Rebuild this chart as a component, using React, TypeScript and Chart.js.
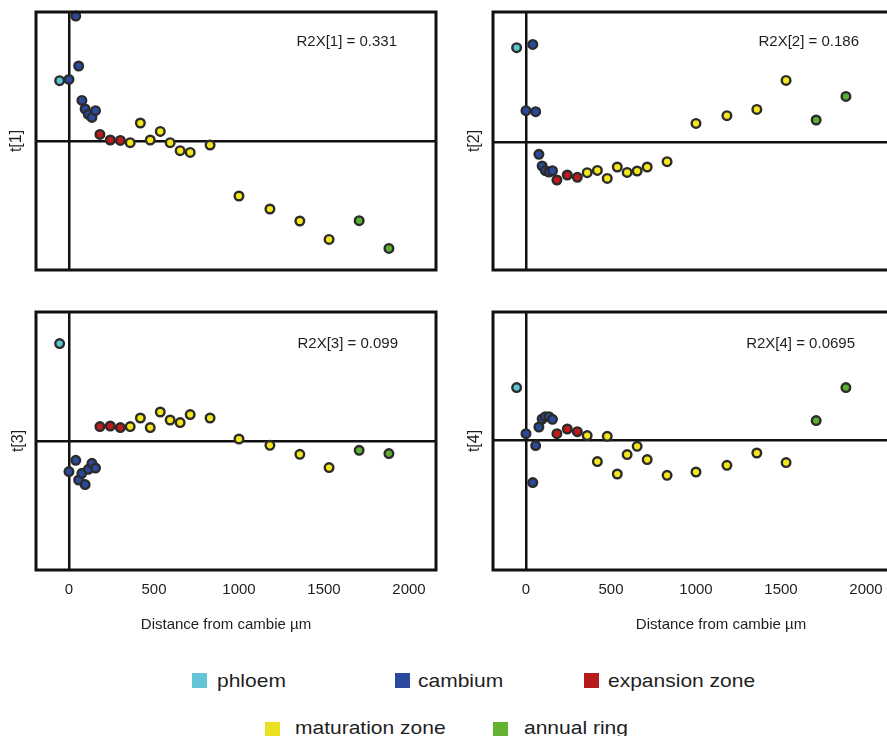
import React, { useEffect, useRef } from "react";
import { Chart, registerables } from "chart.js";

Chart.register(...registerables);

const FONT = '"Liberation Sans", Arial, Helvetica, sans-serif';
const TEXT = "#1e1e1e";

const ZONE_NAMES = ["phloem", "cambium", "expansion zone", "maturation zone", "annual ring"];
const POINT_COLORS = ["#5ec5d6", "#2a4a9e", "#c01a1c", "#f4e71c", "#5cae30"];
const LEGEND_COLORS = ["#63c5d5", "#2b4a9b", "#b51b1b", "#ebe123", "#62b22f"];

// distance from cambium (µm) per zone
const PHLOEM_X = [-55];
const CAMBIUM_X = [0, 40, 57, 76, 95, 114, 135, 156];
const EXPANSION_X = [182, 243, 302];
const MATURATION_X = [360, 420, 478, 537, 595, 654, 713, 830, 1000, 1182, 1358, 1530];
const ANNUAL_X = [1707, 1882];
const ZONE_X = [PHLOEM_X, CAMBIUM_X, EXPANSION_X, MATURATION_X, ANNUAL_X];

const X_TICKS = [0, 500, 1000, 1500, 2000];
const X_MIN = -194;
const X_MAX = 2159;
const X_TITLE = "Distance from cambie µm";

// scores t[1]
const T1_PHLOEM = [6.1];
const T1_CAMBIUM = [6.23, 12.57, 7.57, 4.13, 3.27, 2.73, 2.43, 3.1];
const T1_EXPANSION = [0.73, 0.17, 0.13];
const T1_MATURATION = [-0.1, 1.87, 0.17, 1.03, -0.1, -0.9, -1.07, -0.33, -5.43, -6.73, -7.93, -9.77];
const T1_ANNUAL = [-7.9, -10.67];

// scores t[2]
const T2_PHLOEM = [9.5];
const T2_CAMBIUM = [3.2, 9.83, 3.1, -1.16, -2.33, -2.8, -2.93, -2.8];
const T2_EXPANSION = [-3.73, -3.23, -3.46];
const T2_MATURATION = [-3.0, -2.77, -3.57, -2.43, -2.97, -2.83, -2.43, -1.9, 1.93, 2.7, 3.33, 6.23];
const T2_ANNUAL = [2.27, 4.63];

// scores t[3]
const T3_PHLOEM = [9.77];
const T3_CAMBIUM = [-3.03, -1.9, -3.87, -3.2, -4.33, -2.8, -2.2, -2.67];
const T3_EXPANSION = [1.47, 1.53, 1.37];
const T3_MATURATION = [1.47, 2.33, 1.37, 2.93, 2.13, 1.87, 2.67, 2.33, 0.23, -0.4, -1.3, -2.63];
const T3_ANNUAL = [-0.9, -1.23];

// scores t[4]
const T4_PHLOEM = [5.27];
const T4_CAMBIUM = [0.66, -4.23, -0.53, 1.33, 2.13, 2.36, 2.36, 2.1];
const T4_EXPANSION = [0.66, 1.13, 0.86];
const T4_MATURATION = [0.47, -2.13, 0.4, -3.37, -1.43, -0.6, -1.93, -3.5, -3.17, -2.5, -1.27, -2.23];
const T4_ANNUAL = [1.97, 5.27];

const Y_SERIES = [
  [T1_PHLOEM, T1_CAMBIUM, T1_EXPANSION, T1_MATURATION, T1_ANNUAL],
  [T2_PHLOEM, T2_CAMBIUM, T2_EXPANSION, T2_MATURATION, T2_ANNUAL],
  [T3_PHLOEM, T3_CAMBIUM, T3_EXPANSION, T3_MATURATION, T3_ANNUAL],
  [T4_PHLOEM, T4_CAMBIUM, T4_EXPANSION, T4_MATURATION, T4_ANNUAL],
];
const Y_TITLES = ["t[1]", "t[2]", "t[3]", "t[4]"];
const R2X_LABELS = ["R2X[1] = 0.331", "R2X[2] = 0.186", "R2X[3] = 0.099", "R2X[4] = 0.0695"];
const Y_MIN = [-12.83, -12.73, -12.87, -12.97];
const Y_MAX = [12.97, 13.07, 12.93, 12.83];

// panel geometry (layout only)
const GEOM = [
  { left: 0, top: 0, w: 443, h: 300, axisW: 36, yTitlePad: 7.1, r2xRight: 397, r2xY: 42, showX: false, xTitleX: 0 },
  { left: 443, top: 0, w: 460, h: 300, axisW: 50, yTitlePad: 22.4, r2xRight: 416, r2xY: 42, showX: false, xTitleX: 0 },
  { left: 0, top: 300, w: 443, h: 340, axisW: 36, yTitlePad: 9.4, r2xRight: 398, r2xY: 43.5, showX: true, xTitleX: 226 },
  { left: 443, top: 300, w: 460, h: 340, axisW: 50, yTitlePad: 22.4, r2xRight: 412, r2xY: 43.5, showX: true, xTitleX: 278 },
];
const PLOT_W = 400;
const PLOT_TOP = 12;
const PLOT_H = 258;

const LEGEND_POS = [
  { sx: 192, sy: 672.5, tx: 217, ty: 669 },
  { sx: 395, sy: 672.5, tx: 418, ty: 669 },
  { sx: 584, sy: 672.5, tx: 608, ty: 669 },
  { sx: 265, sy: 721.5, tx: 295, ty: 716.2 },
  { sx: 493, sy: 721.5, tx: 524, ty: 716.2 },
];

const panelDecor = {
  id: "panelDecor",
  afterDatasetsDraw(chart: any, _args: any, opts: any) {
    const { ctx, chartArea: a } = chart;
    ctx.save();
    ctx.lineWidth = 3;
    ctx.strokeStyle = "#111";
    ctx.strokeRect(a.left, a.top, a.right - a.left, a.bottom - a.top);
    ctx.fillStyle = TEXT;
    ctx.font = `15px ${FONT}`;
    ctx.textBaseline = "middle";
    ctx.textAlign = "right";
    ctx.fillText(opts.r2x, opts.r2xRight, opts.r2xY);
    if (opts.showXTitle) {
      ctx.textAlign = "center";
      ctx.fillText(opts.xTitle, opts.xTitleX, opts.xTitleY);
    }
    ctx.restore();
  },
};

const zeroGrid = (c: any) => (c.tick && c.tick.value === 0 ? "#111" : "rgba(0,0,0,0)");

function Panel({ index }: { index: number }) {
  const ref = useRef<HTMLCanvasElement | null>(null);
  const g = GEOM[index];
  useEffect(() => {
    if (!ref.current) return;
    const datasets = ZONE_NAMES.map((name, z) => ({
      label: name,
      data: ZONE_X[z].map((x, i) => ({ x, y: Y_SERIES[index][z][i] })),
      backgroundColor: POINT_COLORS[z],
      borderColor: "#2b2b2b",
      borderWidth: 2.4,
      pointRadius: 4.3,
      pointHoverRadius: 4.3,
      clip: false as any,
    }));
    const chart = new Chart(ref.current, {
      type: "scatter",
      data: { datasets },
      plugins: [panelDecor as any],
      options: {
        responsive: false,
        animation: false,
        devicePixelRatio: 1,
        events: [],
        layout: { padding: { left: 0, top: PLOT_TOP, right: g.w - g.axisW - PLOT_W, bottom: 0 } },
        plugins: {
          legend: { display: false },
          tooltip: { enabled: false },
          panelDecor: {
            r2x: R2X_LABELS[index],
            r2xRight: g.r2xRight,
            r2xY: g.r2xY,
            showXTitle: g.showX,
            xTitle: X_TITLE,
            xTitleX: g.xTitleX,
            xTitleY: 325,
          },
        } as any,
        scales: {
          x: {
            type: "linear",
            min: X_MIN,
            max: X_MAX,
            afterBuildTicks: (s: any) => {
              s.ticks = X_TICKS.map((v) => ({ value: v }));
            },
            afterFit: (s: any) => {
              s.height = g.h - PLOT_TOP - PLOT_H;
            },
            ticks: {
              display: g.showX,
              padding: 11,
              color: TEXT,
              font: { size: 15, family: FONT },
              callback: (v: any) => String(v),
            },
            grid: { color: zeroGrid, lineWidth: 2.5, drawTicks: false },
            border: { display: false },
          },
          y: {
            type: "linear",
            min: Y_MIN[index],
            max: Y_MAX[index],
            afterBuildTicks: (s: any) => {
              s.ticks = [{ value: 0 }];
            },
            afterFit: (s: any) => {
              s.width = g.axisW;
            },
            ticks: { display: false },
            grid: { color: zeroGrid, lineWidth: 2.5, drawTicks: false },
            border: { display: false },
            title: {
              display: true,
              text: Y_TITLES[index],
              color: TEXT,
              font: { size: 16, family: FONT },
              padding: { top: g.yTitlePad, bottom: 0 },
            },
          },
        },
      } as any,
    });
    return () => chart.destroy();
  }, [index]);
  return (
    <canvas
      ref={ref}
      width={g.w}
      height={g.h}
      style={{ position: "absolute", left: g.left, top: g.top, width: g.w, height: g.h }}
    />
  );
}

export default function App() {
  return (
    <div
      style={{
        position: "fixed",
        left: 0,
        top: 0,
        width: 887,
        height: 736,
        overflow: "hidden",
        background: "#fff",
        fontFamily: FONT,
      }}
    >
      {GEOM.map((_, i) => (
        <Panel key={i} index={i} />
      ))}
      {ZONE_NAMES.map((name, i) => (
        <React.Fragment key={name}>
          <div
            style={{
              position: "absolute",
              left: LEGEND_POS[i].sx,
              top: LEGEND_POS[i].sy,
              width: 15,
              height: 15,
              background: LEGEND_COLORS[i],
            }}
          />
          <div
            style={{
              position: "absolute",
              left: LEGEND_POS[i].tx,
              top: LEGEND_POS[i].ty,
              fontSize: 21,
              lineHeight: "21px",
              color: TEXT,
              whiteSpace: "nowrap",
              transform: "scaleY(0.88)",
              transformOrigin: "0 17.8px",
            }}
          >
            {name}
          </div>
        </React.Fragment>
      ))}
    </div>
  );
}
